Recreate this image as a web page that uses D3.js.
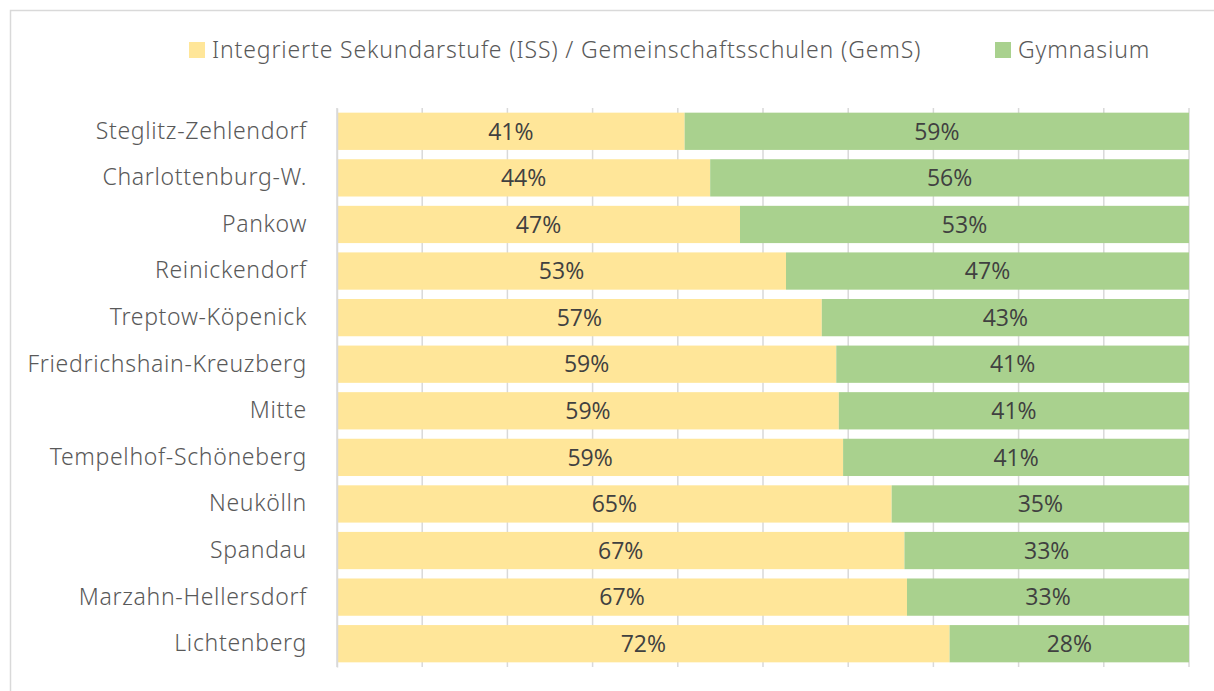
<!DOCTYPE html>
<html>
<head>
<meta charset="utf-8">
<script src="https://cdn.jsdelivr.net/npm/d3@7"></script>
<style>
  body { margin: 0; background: #fff; }
  svg { display: block; }
</style>
</head>
<body>
<div id="chart"></div>
<script>
const districts = [
  'Steglitz-Zehlendorf', 'Charlottenburg-W.', 'Pankow', 'Reinickendorf',
  'Treptow-Köpenick', 'Friedrichshain-Kreuzberg', 'Mitte', 'Tempelhof-Schöneberg',
  'Neukölln', 'Spandau', 'Marzahn-Hellersdorf', 'Lichtenberg'
]
const issShare = [40.8, 43.8, 47.3, 52.7, 56.9, 58.6, 58.9, 59.4, 65.1, 66.6, 66.9, 71.9]
const gymShare = [59.2, 56.2, 52.7, 47.3, 43.1, 41.4, 41.1, 40.6, 34.9, 33.4, 33.1, 28.1]
const seriesNames = ['Integrierte Sekundarstufe (ISS) / Gemeinschaftsschulen (GemS)', 'Gymnasium']
const seriesColors = ['#FFE699', '#A9D18E']

const W = 1214
const H = 691
const margin = { top: 108, right: 25, bottom: 24, left: 337 }
const width = 1189 - margin.left
const height = 667 - margin.top
const labelFont = '"Noto Sans", sans-serif'

const svg = d3.select('#chart').append('svg')
  .attr('width', W)
  .attr('height', H)

// chart frame
svg.append('rect')
  .attr('x', 10.5).attr('y', 10.5)
  .attr('width', W + 20).attr('height', H + 20)
  .attr('fill', 'none')
  .attr('stroke', '#D9D9D9')
  .attr('stroke-width', 1.5)

const g = svg.append('g')
  .attr('transform', `translate(${margin.left},${margin.top})`)

const xScale = d3.scaleLinear().domain([0, 100]).range([0, width])
const yScale = d3.scaleBand().domain(districts).range([0, height]).paddingInner(0.2).paddingOuter(0.1)

// gridlines
g.append('g')
  .selectAll('line')
  .data(xScale.ticks(10))
  .enter().append('line')
  .attr('x1', d => xScale(d)).attr('x2', d => xScale(d))
  .attr('y1', 0).attr('y2', height)
  .attr('stroke', '#D9D9D9')
  .attr('stroke-width', 1.5)

const rows = districts.map((d, i) => ({ name: d, iss: issShare[i], gym: gymShare[i] }))
const stacked = d3.stack().keys(['iss', 'gym'])(rows)

const layer = g.selectAll('.layer')
  .data(stacked)
  .enter().append('g')
  .attr('class', 'layer')
  .attr('fill', (d, i) => seriesColors[i])

layer.selectAll('rect')
  .data(d => d)
  .enter().append('rect')
  .attr('x', d => xScale(d[0]))
  .attr('y', d => yScale(d.data.name))
  .attr('width', d => xScale(d[1]) - xScale(d[0]))
  .attr('height', yScale.bandwidth())

layer.selectAll('text')
  .data(d => d)
  .enter().append('text')
  .attr('x', d => (xScale(d[0]) + xScale(d[1])) / 2)
  .attr('y', d => yScale(d.data.name) + yScale.bandwidth() / 2)
  .attr('dy', '0.36em')
  .attr('text-anchor', 'middle')
  .attr('fill', '#404040')
  .attr('font-family', '"Open Sans", sans-serif')
  .attr('font-size', 23)
  .text(d => Math.round(d[1] - d[0]) + '%')

// category axis
const yAxis = g.append('g')
  .call(d3.axisLeft(yScale).tickSize(0).tickPadding(30))
yAxis.select('.domain').attr('stroke', '#D9D9D9').attr('stroke-width', 1.5)
yAxis.selectAll('text')
  .attr('fill', '#595959')
  .attr('font-family', labelFont)
  .attr('font-weight', 300)
  .attr('font-size', 23)
  .attr('letter-spacing', 0.68)

// legend
const legendX = [189, 995]
const legend = svg.selectAll('.legend')
  .data(seriesNames)
  .enter().append('g')
  .attr('class', 'legend')
  .attr('transform', (d, i) => `translate(${legendX[i]},42)`)
legend.append('rect')
  .attr('width', 16).attr('height', 16)
  .attr('fill', (d, i) => seriesColors[i])
legend.append('text')
  .attr('x', 23).attr('y', 8).attr('dy', '0.36em')
  .attr('fill', '#595959')
  .attr('font-family', labelFont)
  .attr('font-weight', 300)
  .attr('font-size', 23)
  .attr('letter-spacing', 0.85)
  .text(d => d)
</script>
</body>
</html>
